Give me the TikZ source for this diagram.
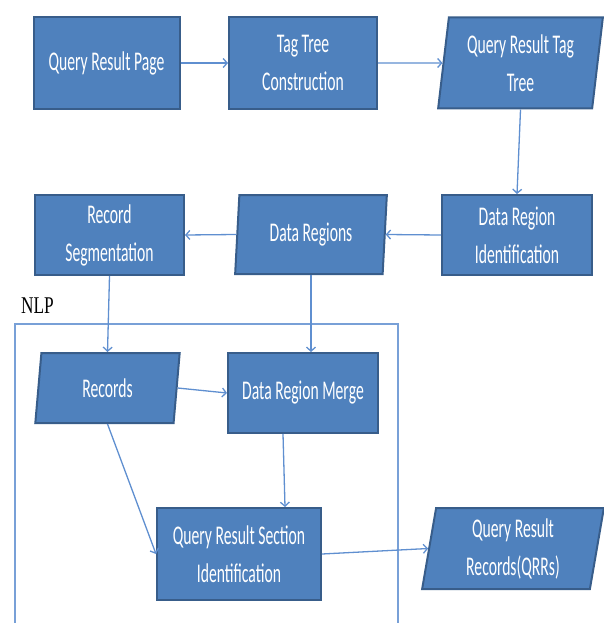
\documentclass[tikz,border=0pt]{standalone}
\usepackage{fontspec}
\newfontfamily\boxfont[FakeStretch=0.58]{Carlito}
\newfontfamily\nlpfont[FakeStretch=0.72]{Liberation Serif}
\usetikzlibrary{shapes.geometric,arrows.meta}
\definecolor{boxfill}{RGB}{79,129,189}
\definecolor{boxline}{RGB}{56,93,138}
\definecolor{conn}{RGB}{95,143,208}
\definecolor{frameblue}{RGB}{120,160,215}
\tikzset{
  procbox/.style={rectangle, draw=boxline, fill=boxfill, line width=2pt,
    text=white, font=\boxfont\fontsize{27}{38}\selectfont, align=center, inner sep=0pt},
  databox/.style={procbox, trapezium, trapezium stretches=true},
  connector/.style={draw=conn, line width=1.3pt, -{Straight Barb[length=4pt,width=9pt]}},
  framebox/.style={draw=frameblue, line width=1.4pt},
}
\begin{document}
\begin{tikzpicture}[x=1pt,y=-1pt]
\useasboundingbox (0,0) rectangle (604,623);

% top row
\node[procbox, minimum width=146pt, minimum height=92pt] (qrp) at (106.5,63) {Query Result Page};
\node[procbox, minimum width=148pt, minimum height=92pt] (ttc) at (303,63) {Tag Tree\\Construction};
\node[databox, trapezium left angle=82, trapezium right angle=98,
      minimum width=165pt, minimum height=91pt] (qrtt) at (520.5,63) {Query Result Tag\\Tree};

% second row
\node[procbox, minimum width=150pt, minimum height=80pt] (dri) at (517,235) {Data Region\\Identification};
\node[databox, trapezium left angle=84, trapezium right angle=96,
      minimum width=152pt, minimum height=79pt] (dr) at (311,234.5) {Data Regions};
\node[procbox, minimum width=149pt, minimum height=80pt] (rs) at (109.5,235) {Record\\Segmentation};

% NLP frame
\draw[framebox] (15,623) -- (15,324) -- (398,324) -- (398,623);
\node[font=\nlpfont\fontsize{24}{28}\selectfont, anchor=base west, inner sep=0pt] (nlp) at (21,313) {NLP};

% lower part
\node[databox, trapezium left angle=83, trapezium right angle=97,
      minimum width=145pt, minimum height=70pt] (rec) at (107.5,388) {Records};
\node[procbox, minimum width=150pt, minimum height=80pt] (drm) at (303,393) {Data Region Merge};
\node[procbox, minimum width=164pt, minimum height=92pt] (qrsi) at (239,554) {Query Result Section\\Identification};
\node[databox, trapezium left angle=82, trapezium right angle=98,
      minimum width=182pt, minimum height=81pt] (qrr) at (513,548.5) {Query Result\\Records(QRRs)};

% connectors
\draw[connector] (qrp.east) -- (ttc.west);
\draw[connector] (ttc.east) -- (qrtt.west);
\draw[connector] (qrtt.south) -- (dri.north);
\draw[connector] (dri.west) -- (dr.east);
\draw[connector] (dr.west) -- (rs.east);
\draw[connector] (rs.south) -- (rec.north);
\draw[connector] (dr.south) -- (dr.south |- drm.north);
\draw[connector] (rec.east) -- (drm.west);
\draw[connector] (rec.south) -- (qrsi.west);
\draw[connector] ([xshift=-20pt]drm.south) -- ([xshift=46pt]qrsi.north);
\draw[connector] (qrsi.east) -- (qrr.west);
\end{tikzpicture}
\end{document}
